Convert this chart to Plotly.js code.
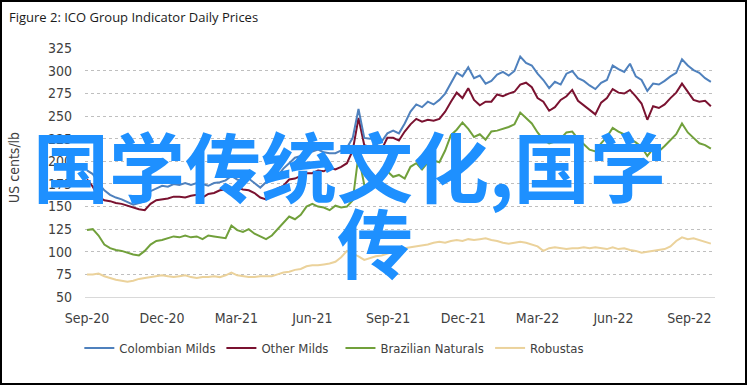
<!DOCTYPE html>
<html><head><meta charset="utf-8">
<script src="https://cdn.plot.ly/plotly-3.0.1.min.js"></script>
<style>
html,body{margin:0;padding:0;background:#fff}
#chart{width:748px;height:387px;position:relative}
#frame{position:absolute;left:0;top:0;width:747px;height:385px;border:2px solid #000;box-sizing:border-box;pointer-events:none}
</style>
</head><body><div id="chart"></div><div id="frame"></div>
<script>
// Weekly observations starting 2020-09-01
const startDate = '2020-09-01';
const seriesNames = ['Colombian Milds', 'Other Milds', 'Brazilian Naturals', 'Robustas'];

const colombianMilds = [
 190,186,176,168,163,160,158,155,152,154,
 156,167,170,173,172,175,174,176,174,176,
 175,173,176,177,179,184,180,178,181,176,
 171,177,179,184,192,198,204,206,207,211,
 213,210,209,209,212,215,226,258,226,225,
 227,222,231,234,231,242,255,263,260,266,
 263,268,275,287,298,294,304,292,295,286,
 289,296,299,295,300,316,309,306,297,290,
 281,288,285,297,300,292,289,284,280,287,
 290,306,302,299,308,294,290,278,286,285,
 289,294,298,313,306,301,298,292,288];

const otherMilds = [
 180,172,161,157,156,154,153,151,149,147,
 146,153,157,158,159,161,161,160,162,163,
 160,164,165,168,169,168,171,169,168,165,
 160,158,166,170,173,180,181,184,187,187,
 190,189,193,191,194,198,212,248,218,216,
 219,213,226,226,223,233,241,247,244,246,
 245,247,255,266,276,270,281,268,262,266,
 266,274,272,275,277,285,287,282,270,266,
 256,260,268,272,279,267,262,257,252,265,
 270,280,276,275,279,272,264,246,261,259,
 263,270,276,286,277,268,266,267,261];

const brazilianNaturals = [
 124,125,118,108,104,102,101,99,97,96,
 101,108,112,113,115,117,116,118,116,117,
 114,118,117,116,115,129,124,122,125,120,
 117,114,118,125,131,139,136,141,150,153,
 150,149,146,151,149,150,157,207,174,172,
 179,184,189,183,185,181,194,198,191,199,
 201,199,212,229,235,243,236,227,230,224,
 233,234,236,238,241,254,248,242,232,224,
 220,222,225,232,233,225,219,213,211,220,
 227,237,233,230,225,221,216,206,214,211,
 217,223,230,242,232,226,220,218,214];

const robustas = [
 75,75,76,73,71,69,68,67,68,70,
 71,72,73,74,73,72,73,74,72,71,
 72,72,73,72,74,77,74,73,72,72,
 73,73,73,75,77,78,80,81,84,85,
 85,86,87,89,94,101,98,95,91,93,
 95,96,98,100,101,104,105,106,107,108,
 110,111,110,112,113,112,114,113,114,115,
 113,112,110,109,110,111,110,108,106,101,
 104,105,104,103,104,104,105,104,105,104,
 103,105,103,104,102,101,99,100,101,102,
 103,106,112,116,114,115,113,111,109];

const tickVals = ['2020-09-01','2020-12-01','2021-03-01','2021-06-01','2021-09-01','2021-12-01','2022-03-01','2022-06-01','2022-09-01'];
const tickText = ['Sep-20','Dec-20','Mar-21','Jun-21','Sep-21','Dec-21','Mar-22','Jun-22','Sep-22'];
const yTickVals = [50,75,100,125,150,175,200,225,250,275,300,325];

const dates = [];
{
  const d0 = new Date(startDate + 'T00:00:00Z');
  for (let i = 0; i < colombianMilds.length; i++) {
    const d = new Date(d0.getTime() + i * 7 * 86400000);
    dates.push(d.toISOString().slice(0, 10));
  }
}

const colors = ['#4F81BD', '#7A1230', '#71A03B', '#EBD29B'];
const allSeries = [colombianMilds, otherMilds, brazilianNaturals, robustas];
const legendIds = ['legend', 'legend2', 'legend3', 'legend4'];

const traces = allSeries.map((s, k) => ({
  x: dates, y: s, type: 'scatter', mode: 'lines', name: seriesNames[k],
  line: {color: colors[k], width: 2}, legend: legendIds[k], hoverinfo: 'skip'
})).reverse();

const narrow = '"Liberation Sans Narrow", "Arial Narrow", "DejaVu Sans Condensed", sans-serif';
const legendFont = {family: narrow, size: 13, color: '#404040'};
const legendY = (297 - 348) / 249;
const legendXs = [-0.009, 0.2165, 0.4055, 0.643];

const layout = {
  width: 748, height: 387,
  margin: {l: 85, r: 33, t: 48, b: 90},
  paper_bgcolor: '#fff', plot_bgcolor: '#fff',
  title: {text: 'Figure 2: ICO Group Indicator Daily Prices', x: 9/748, xanchor: 'left', xref: 'container',
          y: 1 - 17/387, yanchor: 'middle', yref: 'container',
          font: {family: '"Open Sans", sans-serif', size: 13, color: '#1a1a1a'}},
  xaxis: {type: 'date', range: ['2020-08-29 14:00', '2022-10-02'], tickvals: tickVals, ticktext: tickText,
          showgrid: false, zeroline: false, showline: true, linecolor: '#D9D9D9', linewidth: 1,
          ticks: '', ticklabelstandoff: 8, tickfont: {family: narrow, size: 14, color: '#404040'}},
  yaxis: {range: [50, 325.4], tickvals: yTickVals, showgrid: true, gridcolor: '#BFBFBF', griddash: 'dot', gridwidth: 1,
          zeroline: false, showline: false, ticks: '', ticklabelstandoff: 12,
          tickfont: {family: narrow, size: 14, color: '#404040'}},
  showlegend: true,
  annotations: [
    {text: 'US cents/lb', textangle: -90, xref: 'paper', yref: 'paper', x: (14 - 85)/630, y: (297 - 168)/249,
     xanchor: 'center', yanchor: 'middle', showarrow: false, font: {family: narrow, size: 14, color: '#404040'}},
    {text: '国学传统文化,国学', xref: 'paper', yref: 'paper', x: (349 - 85)/630, y: (297 - 164)/249,
     xanchor: 'center', yanchor: 'middle', showarrow: false,
     font: {family: '"Noto Sans CJK SC", sans-serif', size: 76, color: '#1E90FF', weight: 700}},
    {text: '传', xref: 'paper', yref: 'paper', x: (375 - 85)/630, y: (297 - 240)/249,
     xanchor: 'center', yanchor: 'middle', showarrow: false,
     font: {family: '"Noto Sans CJK SC", sans-serif', size: 76, color: '#1E90FF', weight: 700}}
  ]
};
legendIds.forEach((id, k) => {
  layout[id] = {x: legendXs[k], y: legendY, xanchor: 'left', yanchor: 'middle', orientation: 'h',
                font: legendFont, bgcolor: 'rgba(0,0,0,0)', borderwidth: 0, itemwidth: 30};
});

Plotly.newPlot('chart', traces, layout, {displayModeBar: false, staticPlot: true});
</script></body></html>
